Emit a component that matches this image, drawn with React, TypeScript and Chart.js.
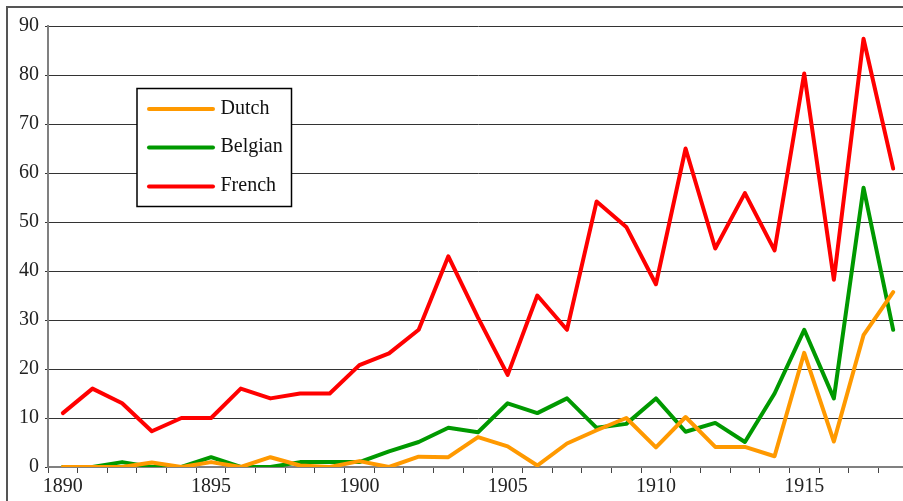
import React, { useEffect, useRef } from "react";
import { Chart, registerables } from "chart.js";

Chart.register(...registerables);

const years: string[] = [
  "1890", "1891", "1892", "1893", "1894", "1895", "1896", "1897", "1898", "1899",
  "1900", "1901", "1902", "1903", "1904", "1905", "1906", "1907", "1908", "1909",
  "1910", "1911", "1912", "1913", "1914", "1915", "1916", "1917", "1918",
];

const dutch: number[] = [
  0, 0, 0, 0.9, 0, 1, 0, 2, 0.3, 0,
  1.2, 0, 2.1, 2, 6.1, 4.2, 0.3, 4.8, 7.5, 10,
  4, 10.2, 4.1, 4.1, 2.2, 23.3, 5.2, 26.9, 35.7,
];

const belgian: number[] = [
  0, 0, 1, 0, 0, 2, 0, 0, 1, 1,
  1, 3.2, 5.1, 8, 7.1, 13, 11, 14, 8, 8.8,
  14, 7.2, 9, 5.1, 15, 28, 14, 57, 28,
];

const french: number[] = [
  11, 16, 13, 7.3, 10, 10, 16, 14, 15, 15,
  20.8, 23.2, 28, 43, 30.5, 18.8, 35, 28, 54.2, 49,
  37.3, 65, 44.6, 55.9, 44.2, 80.3, 38.2, 87.4, 60.9,
];

const seriesNames: string[] = ["Dutch", "Belgian", "French"];
const seriesColors: string[] = ["#FF9900", "#009900", "#FF0000"];
const yTicks: number[] = [0, 10, 20, 30, 40, 50, 60, 70, 80, 90];

const FONT = "'Liberation Serif', 'DejaVu Serif', serif";

const frameAndLegend = {
  id: "frameAndLegend",
  afterDraw(chart: any) {
    const ctx = chart.ctx;
    ctx.save();
    // outer frame (left and top edges visible)
    ctx.strokeStyle = "#555555";
    ctx.lineWidth = 2;
    ctx.beginPath();
    ctx.moveTo(7, 560);
    ctx.lineTo(7, 7);
    ctx.lineTo(1000, 7);
    ctx.stroke();

    // legend box
    const bx = 137, by = 88.5, bw = 154.5, bh = 118;
    ctx.fillStyle = "#ffffff";
    ctx.fillRect(bx, by, bw, bh);
    ctx.strokeStyle = "#000000";
    ctx.lineWidth = 1.5;
    ctx.strokeRect(bx, by, bw, bh);

    const rows = [109, 147.5, 186.5];
    chart.data.datasets.forEach((ds: any, i: number) => {
      const y = rows[i];
      ctx.strokeStyle = ds.borderColor;
      ctx.lineWidth = 4;
      ctx.lineCap = "round";
      ctx.beginPath();
      ctx.moveTo(149, y);
      ctx.lineTo(213, y);
      ctx.stroke();
      ctx.fillStyle = "#111111";
      ctx.font = "20px " + FONT;
      ctx.textBaseline = "alphabetic";
      ctx.textAlign = "left";
      ctx.fillText(ds.label, 220.5, y + 4.5);
    });
    ctx.restore();
  },
};

export default function App() {
  const canvasRef = useRef<HTMLCanvasElement | null>(null);

  useEffect(() => {
    const canvas = canvasRef.current;
    if (!canvas) return;
    const seriesData = [dutch, belgian, french];
    const chart = new Chart(canvas, {
      type: "line",
      data: {
        labels: years,
        datasets: seriesNames.map((name, i) => ({
          label: name,
          data: seriesData[i],
          borderColor: seriesColors[i],
          backgroundColor: seriesColors[i],
          borderWidth: 4,
          borderJoinStyle: "round" as const,
          borderCapStyle: "round" as const,
          pointRadius: 0,
          tension: 0,
          fill: false,
        })),
      },
      options: {
        responsive: false,
        maintainAspectRatio: false,
        animation: false,
        devicePixelRatio: 1,
        layout: { padding: { left: 0, top: 26, right: 12, bottom: 0 } },
        plugins: {
          legend: { display: false },
          tooltip: { enabled: false },
        },
        scales: {
          x: {
            type: "category",
            offset: true,
            afterFit: (s: any) => {
              s.height = 34;
            },
            grid: {
              offset: true,
              drawOnChartArea: false,
              drawTicks: true,
              tickLength: 6,
              color: "#444444",
              lineWidth: 1,
            },
            border: { display: true, color: "#808080", width: 2 },
            ticks: {
              autoSkip: false,
              maxRotation: 0,
              padding: 2,
              color: "#222222",
              font: { family: FONT, size: 20 },
              callback: (_v: any, index: number) => {
                const y = Number(years[index]);
                return y % 5 === 0 ? String(y) : "";
              },
            },
          },
          y: {
            min: 0,
            max: 90,
            afterFit: (s: any) => {
              s.width = 48;
            },
            afterBuildTicks: (s: any) => {
              s.ticks = yTicks.map((v) => ({ value: v }));
            },
            grid: {
              drawOnChartArea: true,
              drawTicks: true,
              tickLength: 3,
              color: "#333333",
              lineWidth: 1,
            },
            border: { display: true, color: "#808080", width: 2 },
            ticks: {
              padding: 6,
              color: "#222222",
              font: { family: FONT, size: 20 },
            },
          },
        },
      },
      plugins: [frameAndLegend],
    });
    return () => chart.destroy();
  }, []);

  return (
    <div
      style={{
        position: "fixed",
        left: 0,
        top: 0,
        width: 903,
        height: 501,
        overflow: "hidden",
        background: "#ffffff",
      }}
    >
      <canvas ref={canvasRef} width={920} height={501} style={{ display: "block", width: 920, height: 501 }} />
    </div>
  );
}
